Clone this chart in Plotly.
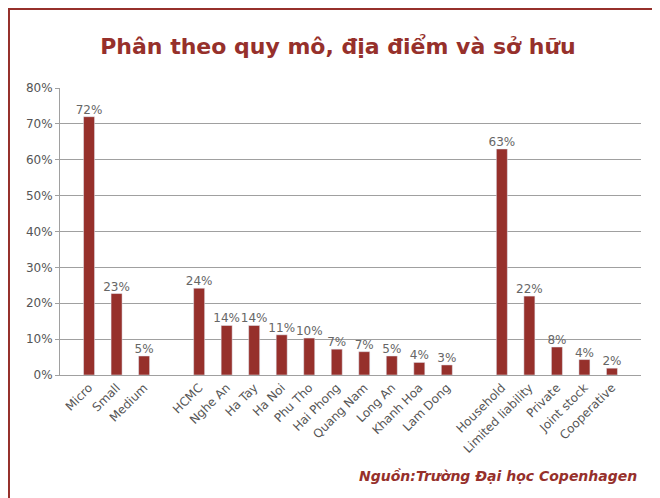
import plotly.graph_objects as go

categories = ["Micro", "Small", "Medium", " ",
              "HCMC", "Nghe An", "Ha Tay", "Ha Noi", "Phu Tho", "Hai Phong", "Quang Nam",
              "Long An", "Khanh Hoa", "Lam Dong", "  ",
              "Household", "Limited liability", "Private", "Joint stock", "Cooperative"]
values = [0.72, 0.227, 0.053, None,
          0.242, 0.138, 0.138, 0.112, 0.103, 0.072, 0.065, 0.053, 0.035, 0.028, None,
          0.63, 0.22, 0.078, 0.043, 0.019]
labels = ["72%", "23%", "5%", "",
          "24%", "14%", "14%", "11%", "10%", "7%", "7%", "5%", "4%", "3%", "",
          "63%", "22%", "8%", "4%", "2%"]
yticks = [0, 0.1, 0.2, 0.3, 0.4, 0.5, 0.6, 0.7, 0.8]

red = "#96302B"
font = "Verdana, DejaVu Sans"
fig = go.Figure()
fig.add_trace(go.Bar(x=categories, y=values, marker=dict(color=red), width=0.4, hoverinfo="skip"))
fig.add_trace(go.Scatter(x=categories, y=values, text=labels, mode="text", textposition="top center",
                         textfont=dict(color="#666666", size=12, family=font), cliponaxis=False))

fig.update_layout(
    width=660, height=498, plot_bgcolor="white", paper_bgcolor="white",
    margin=dict(l=52, r=27, t=80, b=131),
    title=dict(text="<b>Phân theo quy mô, địa điểm và sở hữu</b>", x=0.5, y=0.924,
               xanchor="center", yanchor="middle", font=dict(size=22, color=red, family=font)),
    showlegend=False,
    shapes=[dict(type="rect", xref="paper", yref="paper", x0=-0.0878, x1=1.043, y0=-0.452, y1=1.275,
                 line=dict(color=red, width=2))],
    annotations=[dict(text="<b><i>Nguồn:Trường Đại học Copenhagen</i></b>", xref="paper", yref="paper",
                      x=0.997, y=-0.352, xanchor="right", yanchor="middle", showarrow=False,
                      font=dict(size=14, color=red, family=font))],
)
fig.update_yaxes(range=[0, 0.8], tickvals=yticks, tickformat=".0%", showgrid=True, automargin=False,
                 gridcolor="#A0A0A0", gridwidth=1, showline=True, linecolor="#A0A0A0",
                 tickfont=dict(color="#555555", size=12, family=font),
                 ticks="outside", ticklen=4, tickcolor="#A0A0A0", zeroline=False)
fig.update_xaxes(tickangle=-45, showline=True, linecolor="#A0A0A0", automargin=False,
                 tickfont=dict(color="#555555", size=12, family=font),
                 categoryorder="array", categoryarray=categories)
fig.write_html("out.html")
